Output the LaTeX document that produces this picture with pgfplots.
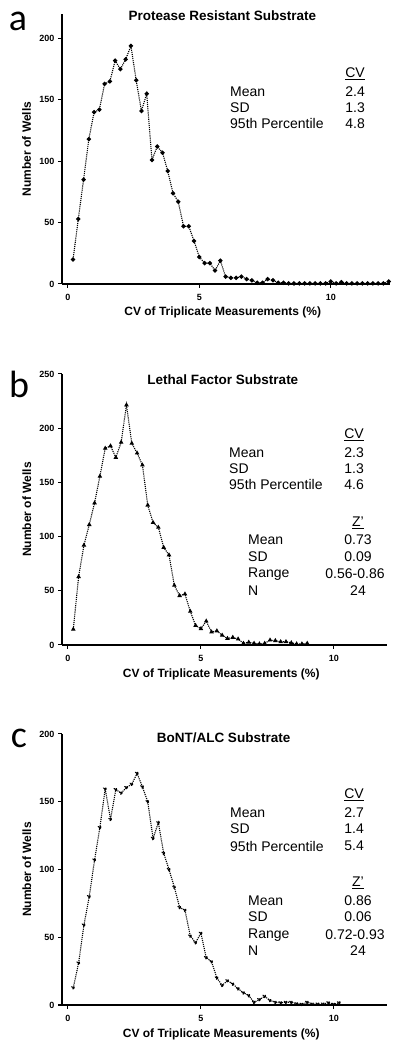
\documentclass[border=0pt]{standalone}
\usepackage{pgfplots}
\pgfplotsset{compat=1.18}
\usepackage{fontspec}
\setmainfont{Liberation Sans}
\newfontfamily\carlito{Carlito}
\begin{document}
\begin{tikzpicture}[x=1pt,y=1pt]
\useasboundingbox (0pt,0pt) rectangle (400pt,1051pt);
\pgfplotsset{
  prism/.style={
    scale only axis,
    anchor=south west,
    axis x line*=bottom,
    axis y line*=left,
    axis line style={line width=1.1pt,-},
    tick align=outside,
    major tick length=4pt,
    every tick/.style={line width=1pt,black},
    ymin=0,
    xtick={0,5,10},
    /pgf/number format/assume math mode=true,
    tick label style={font=\bfseries\fontsize{9}{9}\selectfont},
    xticklabel style={yshift=-3pt},
    xlabel={CV of Triplicate Measurements (\%)},
    ylabel={Number of Wells},
    xlabel style={font=\bfseries\fontsize{12}{12}\selectfont, at={(axis description cs:0.49,-0.107)}, anchor=center},
    ylabel style={font=\bfseries\fontsize{12}{12}\selectfont, at={(axis description cs:-0.108,0.5)}, anchor=center},
    every axis title shift=0pt,
    title style={font=\bfseries\fontsize{13.5}{13.5}\selectfont, anchor=center, yshift=0pt},
    clip=false,
  },
  series/.style={black, densely dotted, line width=1.1pt, mark size=1.6pt, mark options={solid,fill=black}},
}
% ---------------- panel a ----------------
\begin{axis}[prism, at={(62pt,767pt)}, width=328pt, height=270pt,
  xmin=-0.22, xmax=12.25, ymax=220, ytick={0,50,100,150,200},
  title={Protease Resistant Substrate}, title style={at={(axis description cs:0.489,0.993)}}]
\addplot[series, mark=*] coordinates {
(0.2,20) (0.4,53) (0.6,85) (0.8,118) (1.0,140) (1.2,142) (1.4,163) (1.6,165)
(1.8,182) (2.0,175) (2.2,183) (2.4,194) (2.6,166) (2.8,141) (3.0,155) (3.2,101)
(3.4,112) (3.6,107) (3.8,92) (4.0,74) (4.2,67) (4.4,47) (4.6,47) (4.8,35)
(5.0,22) (5.2,17) (5.4,17) (5.6,11) (5.8,19) (6.0,6) (6.2,5) (6.4,5)
(6.6,6) (6.8,4) (7.0,3) (7.2,1) (7.4,1) (7.6,4) (7.8,3) (8.0,1)
(8.2,1) (8.4,0.5) (8.6,0.5) (8.8,0.5) (9.0,0.5) (9.2,0.5) (9.4,0.5) (9.6,0.5)
(9.8,0.5) (10.0,2) (10.2,0.5) (10.4,1.5) (10.6,0.5) (10.8,0.5) (11.0,0.5) (11.2,0.5)
(11.4,0.5) (11.6,0.5) (11.8,0.5) (12.0,0.5) (12.2,2)
};
\end{axis}
% ---------------- panel b ----------------
\begin{axis}[prism, at={(62pt,406pt)}, width=325pt, height=271pt,
  xmin=-0.225, xmax=12, ymax=250, ytick={0,50,100,150,200,250},
  title={Lethal Factor Substrate}, title style={at={(axis description cs:0.495,0.978)}}]
\addplot[series, mark=triangle*] coordinates {
(0.2,14.5) (0.4,63) (0.6,92) (0.8,111) (1.0,131) (1.2,155.6) (1.4,181.4) (1.6,183.6)
(1.8,173) (2.0,187) (2.2,221.4) (2.4,186) (2.6,177) (2.8,166) (3.0,129) (3.2,113)
(3.4,108.5) (3.6,90) (3.8,83) (4.0,55) (4.2,45.5) (4.4,47) (4.6,31) (4.8,18)
(5.0,15) (5.2,22) (5.4,12) (5.6,13) (5.8,9) (6.0,6) (6.2,7) (6.4,5.5)
(6.6,1.5) (6.8,2.5) (7.0,1.5) (7.2,1) (7.4,1.5) (7.6,4.5) (7.8,4) (8.0,3)
(8.2,3) (8.4,2) (8.6,1) (8.8,1) (9.0,1.5)
};
\end{axis}
% ---------------- panel c ----------------
\begin{axis}[prism, at={(62pt,46pt)}, width=325pt, height=271pt,
  xmin=-0.225, xmax=12, ymax=200, ytick={0,50,100,150,200},
  title={BoNT/ALC Substrate}, title style={at={(axis description cs:0.497,0.985)}}]
\addplot[series, mark=triangle*, mark options={rotate=180}] coordinates {
(0.2,12.8) (0.4,31) (0.6,59) (0.8,80) (1.0,107) (1.2,131) (1.4,159.5) (1.6,137)
(1.8,159) (2.0,156.5) (2.2,160.5) (2.4,163) (2.6,171) (2.8,161) (3.0,150) (3.2,123)
(3.4,134.6) (3.6,112) (3.8,100) (4.0,87) (4.2,72) (4.4,70) (4.6,51) (4.8,46)
(5.0,53) (5.2,35) (5.4,32) (5.6,20) (5.8,14.5) (6.0,18) (6.2,15.5) (6.4,12)
(6.6,9) (6.8,7) (7.0,2) (7.2,4) (7.4,6.4) (7.6,3.4) (7.8,2) (8.0,1.7)
(8.2,2) (8.4,2) (8.6,1) (8.8,0.5) (9.0,2) (9.2,0.7) (9.4,0.7) (9.6,0.7)
(9.8,1.7) (10.0,0.5) (10.2,1.7)
};
\end{axis}
% ---------------- panel letters ----------------
\node[anchor=base, inner sep=0pt, font=\carlito\fontsize{38}{38}\selectfont] at (18pt,1020.5pt) {a};
\node[anchor=base, inner sep=0pt, font=\carlito\fontsize{38}{38}\selectfont] at (19pt,653.7pt) {b};
\node[anchor=base, inner sep=0pt, font=\carlito\fontsize{38}{38}\selectfont] at (19pt,303pt) {c};
% ---------------- statistics text ----------------
\tikzset{st/.style={font=\fontsize{14}{14}\selectfont, inner sep=0pt}}
% panel a
\node[st, anchor=center] at (355pt,977pt) {\underline{CV}};
\node[st, anchor=west] at (230pt,959pt) {Mean};
\node[st, anchor=west] at (230pt,943pt) {SD};
\node[st, anchor=west] at (230pt,927pt) {95th Percentile};
\node[st, anchor=east] at (365pt,959pt) {2.4};
\node[st, anchor=east] at (365pt,943pt) {1.3};
\node[st, anchor=east] at (365pt,927pt) {4.8};
% panel b
\node[st, anchor=center] at (354pt,616pt) {\underline{CV}};
\node[st, anchor=west] at (229pt,598.3pt) {Mean};
\node[st, anchor=west] at (229pt,582pt) {SD};
\node[st, anchor=west] at (229pt,566pt) {95th Percentile};
\node[st, anchor=east] at (364pt,598.3pt) {2.3};
\node[st, anchor=east] at (364pt,582pt) {1.3};
\node[st, anchor=east] at (364pt,566pt) {4.6};
\node[st, anchor=center] at (358pt,528pt) {\underline{Z'}};
\node[st, anchor=west] at (248pt,511pt) {Mean};
\node[st, anchor=west] at (248pt,494pt) {SD};
\node[st, anchor=west] at (248pt,477pt) {Range};
\node[st, anchor=west] at (248pt,460pt) {N};
\node[st, anchor=center] at (358pt,511pt) {0.73};
\node[st, anchor=center] at (358pt,494pt) {0.09};
\node[st, anchor=center] at (355pt,477pt) {0.56-0.86};
\node[st, anchor=center] at (358pt,460pt) {24};
% panel c
\node[st, anchor=center] at (354pt,256pt) {\underline{CV}};
\node[st, anchor=west] at (230pt,238.3pt) {Mean};
\node[st, anchor=west] at (230pt,222pt) {SD};
\node[st, anchor=west] at (230pt,205pt) {95th Percentile};
\node[st, anchor=east] at (364pt,238.3pt) {2.7};
\node[st, anchor=east] at (364pt,222pt) {1.4};
\node[st, anchor=east] at (364pt,205pt) {5.4};
\node[st, anchor=center] at (358pt,168pt) {\underline{Z'}};
\node[st, anchor=west] at (248pt,150.3pt) {Mean};
\node[st, anchor=west] at (248pt,134pt) {SD};
\node[st, anchor=west] at (248pt,116pt) {Range};
\node[st, anchor=west] at (248pt,100pt) {N};
\node[st, anchor=center] at (358pt,150.3pt) {0.86};
\node[st, anchor=center] at (358pt,134pt) {0.06};
\node[st, anchor=center] at (355pt,116pt) {0.72-0.93};
\node[st, anchor=center] at (358pt,100pt) {24};
\end{tikzpicture}
\end{document}
